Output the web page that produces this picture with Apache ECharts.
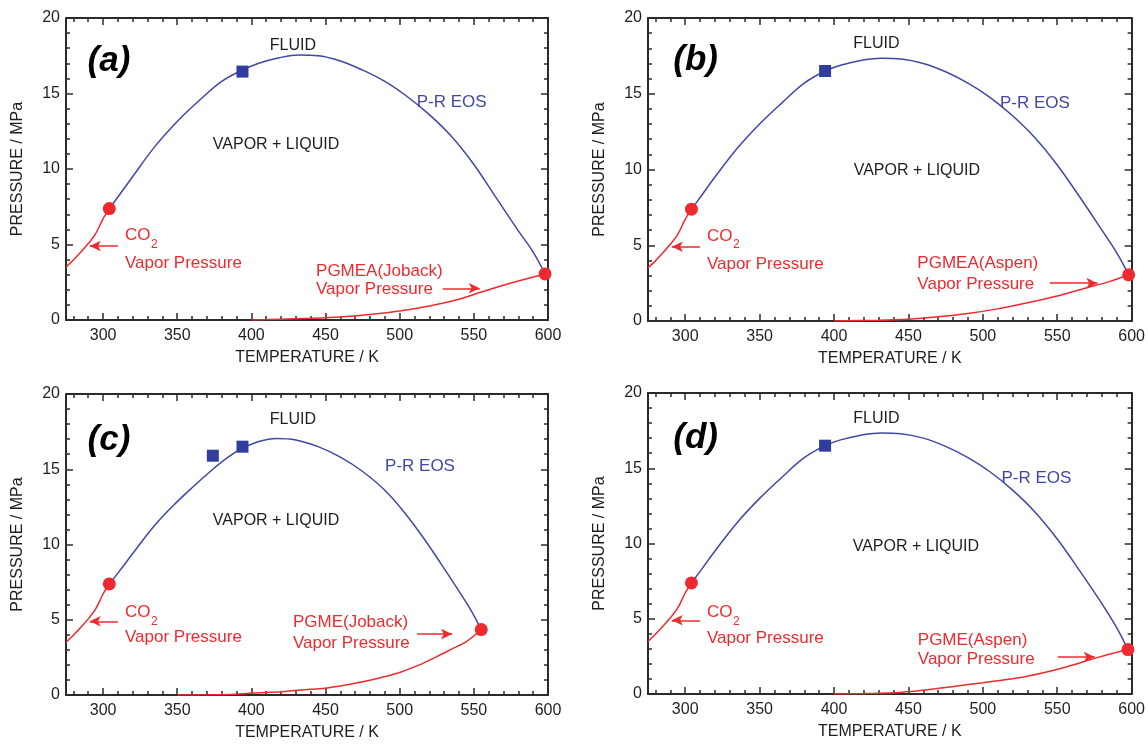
<!DOCTYPE html>
<html>
<head>
<meta charset="utf-8">
<script src="https://cdn.jsdelivr.net/npm/echarts@6/dist/echarts.min.js"></script>
<style>
  html, body { margin: 0; padding: 0; background: #fff; }
  #charts { width: 1148px; height: 745px; }
</style>
</head>
<body>
<div id="charts"></div>
<script>
// tick values
const xMajor = [300, 350, 400, 450, 500, 550, 600];
const xMinor = [280, 290, 310, 320, 330, 340, 360, 370, 380, 390, 410, 420, 430, 440,
  460, 470, 480, 490, 510, 520, 530, 540, 560, 570, 580, 590];

// CO2 vapor pressure, same in all panels
const co2Vapor = [[275, 3.5], [280, 3.97], [285, 4.5], [290, 5.06], [295, 5.72], [300, 6.71], [304.2, 7.38]];
const co2Critical = [304.2, 7.38];

// (a) PGMEA (Joback)
const prA = [[304.2, 7.38], [310, 8.15], [320, 9.5], [335, 11.5], [350, 13.15], [365, 14.55], [380, 15.8],
  [394, 16.55], [405, 17.0], [418, 17.35], [432, 17.55], [445, 17.5], [460, 17.15], [475, 16.55], [490, 15.8],
  [505, 14.8], [520, 13.6], [535, 12.15], [550, 10.3], [565, 8.1], [580, 5.9], [590, 4.5], [598, 3.05]];
const vpA = [[400, 0.0], [420, 0.05], [440, 0.11], [460, 0.2], [480, 0.37], [500, 0.6], [520, 0.93],
  [540, 1.38], [555, 1.85], [575, 2.45], [598, 3.05]];
const critA = [598, 3.05];
const expA = [[394, 16.45]];

// (b) PGMEA (Aspen)
const prB = [[304.2, 7.38], [310, 8.15], [320, 9.5], [335, 11.4], [350, 13.0], [365, 14.4], [380, 15.7],
  [394, 16.5], [405, 16.9], [418, 17.2], [432, 17.35], [445, 17.3], [460, 17.0], [475, 16.45], [490, 15.7],
  [505, 14.75], [520, 13.55], [535, 12.1], [550, 10.3], [565, 8.2], [580, 6.0], [590, 4.5], [598, 3.05]];
const vpB = [[400, 0.0], [430, 0.05], [450, 0.12], [470, 0.28], [490, 0.5], [510, 0.8], [530, 1.2],
  [550, 1.65], [570, 2.2], [585, 2.6], [598, 3.05]];
const critB = [598, 3.05];
const expB = [[394, 16.5]];

// (c) PGME (Joback)
const prC = [[304.2, 7.38], [310, 8.1], [320, 9.4], [335, 11.3], [350, 12.85], [362, 13.95], [374, 15.0],
  [385, 15.85], [394, 16.4], [405, 16.85], [417, 17.05], [430, 16.95], [445, 16.5], [460, 15.8], [475, 14.85],
  [490, 13.6], [505, 11.9], [517, 10.3], [528, 8.7], [538, 7.2], [547, 5.8], [555, 4.35]];
const vpC = [[350, 0.0], [370, 0.01], [385, 0.03], [401, 0.13], [420, 0.22], [440, 0.38], [451, 0.47],
  [470, 0.78], [485, 1.1], [500, 1.5], [512, 1.95], [525, 2.55], [535, 3.05], [545, 3.55], [555, 4.35]];
const critC = [555, 4.35];
const expC = [[374, 15.9], [394, 16.5]];

// (d) PGME (Aspen)
const prD = [[304.2, 7.38], [310, 8.15], [320, 9.5], [335, 11.4], [350, 13.0], [365, 14.4], [380, 15.7],
  [394, 16.5], [405, 16.9], [418, 17.2], [432, 17.35], [445, 17.3], [460, 17.0], [475, 16.45], [490, 15.7],
  [505, 14.75], [520, 13.55], [535, 12.1], [550, 10.3], [565, 8.2], [580, 6.0], [590, 4.4], [597.5, 2.95]];
const vpD = [[400, 0.0], [420, 0.03], [440, 0.08], [460, 0.25], [478, 0.47], [500, 0.75], [523, 1.06],
  [540, 1.4], [556, 1.8], [578, 2.45], [597.5, 2.95]];
const critD = [597.5, 2.95];
const expD = [[394, 16.5]];

const BLUE = "#4047a6";
const RED = "#ef2a2e";
const AXIS = "#2b2b2b";
const FONT = "Liberation Sans, Arial, sans-serif";

const panels = [
  { pr: prA, vp: vpA, crit: critA, exp: expA, tag: "(a)", comp: "PGMEA(Joback)",
    grid: { left: 66, top: 18, width: 482, height: 302 },
    notes: { tag: [304, 17.1], fluid: [428, 18.2], eos: [535, 14.4], vl: [416.6, 11.6],
      co2: [314.8, 5.6], co2vp: [314.8, 3.75], comp: [443.6, 3.2], compvp: [443.6, 2.0],
      co2Arrow: [[310, 4.9], [291, 4.9]], compArrow: [[529, 2.1], [554, 2.1]] } },
  { pr: prB, vp: vpB, crit: critB, exp: expB, tag: "(b)", comp: "PGMEA(Aspen)",
    grid: { left: 648, top: 18, width: 484, height: 303 },
    notes: { tag: [307, 17.2], fluid: [428.5, 18.3], eos: [535, 14.4], vl: [455.7, 9.9],
      co2: [314.6, 5.6], co2vp: [314.6, 3.75], comp: [456, 3.84], compvp: [456, 2.45],
      co2Arrow: [[310, 4.9], [291, 4.9]], compArrow: [[545, 2.5], [577, 2.5]] } },
  { pr: prC, vp: vpC, crit: critC, exp: expC, tag: "(c)", comp: "PGME(Joback)",
    grid: { left: 66, top: 394, width: 482, height: 301 },
    notes: { tag: [304, 16.9], fluid: [428, 18.3], eos: [513.7, 15.2], vl: [416.6, 11.6],
      co2: [314.8, 5.5], co2vp: [314.8, 3.8], comp: [428, 4.8], compvp: [428, 3.45],
      co2Arrow: [[310, 4.9], [291, 4.9]], compArrow: [[511.7, 4.05], [535.3, 4.05]] } },
  { pr: prD, vp: vpD, crit: critD, exp: expD, tag: "(d)", comp: "PGME(Aspen)",
    grid: { left: 648, top: 393, width: 484, height: 301 },
    notes: { tag: [307, 17.0], fluid: [428.5, 18.3], eos: [536, 14.35], vl: [455, 9.8],
      co2: [314.6, 5.4], co2vp: [314.6, 3.7], comp: [456.3, 3.6], compvp: [456.3, 2.3],
      co2Arrow: [[310, 4.9], [291, 4.9]], compArrow: [[550.4, 2.46], [575.2, 2.46]] } }
];

const tickLabel = { color: "#1e1e1e", fontSize: 16, fontFamily: FONT };

function xAxesFor(g) {
  const base = { gridIndex: g, type: "value", min: 275, max: 600, splitLine: { show: false } };
  return [
    Object.assign({}, base, {
      position: "bottom",
      name: "TEMPERATURE / K", nameLocation: "middle", nameGap: 30,
      nameTextStyle: { color: "#1e1e1e", fontSize: 16, fontFamily: FONT },
      axisLine: { show: true, onZero: false, lineStyle: { color: AXIS, width: 2 } },
      axisTick: { show: true, inside: true, length: 7, customValues: xMajor, lineStyle: { color: AXIS, width: 1.5 } },
      axisLabel: Object.assign({ show: true, margin: 8, customValues: xMajor }, tickLabel)
    }),
    Object.assign({}, base, {
      position: "bottom",
      axisLine: { show: false, onZero: false },
      axisTick: { show: true, inside: true, length: 4, customValues: xMinor, lineStyle: { color: AXIS, width: 1.5 } },
      axisLabel: { show: false }
    }),
    Object.assign({}, base, {
      position: "top",
      axisLine: { show: true, onZero: false, lineStyle: { color: AXIS, width: 2 } },
      axisTick: { show: true, inside: true, length: 7, customValues: xMajor, lineStyle: { color: AXIS, width: 1.5 } },
      axisLabel: { show: false }
    }),
    Object.assign({}, base, {
      position: "top",
      axisLine: { show: false, onZero: false },
      axisTick: { show: true, inside: true, length: 4, customValues: xMinor, lineStyle: { color: AXIS, width: 1.5 } },
      axisLabel: { show: false }
    })
  ];
}

function yAxesFor(g) {
  const base = {
    gridIndex: g, type: "value", min: 0, max: 20, interval: 5, splitLine: { show: false },
    axisLine: { show: true, onZero: false, lineStyle: { color: AXIS, width: 2 } },
    axisTick: { show: true, inside: true, length: 7, lineStyle: { color: AXIS, width: 1.5 } },
    minorTick: { show: true, splitNumber: 5, length: 4, lineStyle: { color: AXIS, width: 1.5 } }
  };
  return [
    Object.assign({}, base, {
      position: "left",
      name: "PRESSURE / MPa", nameLocation: "middle", nameGap: 40, nameRotate: 90,
      nameTextStyle: { color: "#1e1e1e", fontSize: 16, fontFamily: FONT },
      axisLabel: Object.assign({ show: true, margin: 6 }, tickLabel)
    }),
    Object.assign({}, base, { position: "right", axisLabel: { show: false } })
  ];
}

let xAxis = [], yAxis = [], series = [];
panels.forEach(function(p, g) {
  xAxis = xAxis.concat(xAxesFor(g));
  yAxis = yAxis.concat(yAxesFor(g));
  const ax = { xAxisIndex: 4 * g, yAxisIndex: 2 * g };
  series.push(Object.assign({ type: "line", data: p.pr, smooth: 0.4, showSymbol: false,
    lineStyle: { color: BLUE, width: 1.5 } }, ax));
  series.push(Object.assign({ type: "line", data: co2Vapor, smooth: 0.3, showSymbol: false,
    lineStyle: { color: RED, width: 1.5 },
    markLine: { silent: true, symbol: ["none", "arrow"], symbolSize: [8, 11], label: { show: false },
      lineStyle: { color: RED, width: 1.5, type: "solid" },
      data: [[{ coord: p.notes.co2Arrow[0] }, { coord: p.notes.co2Arrow[1] }]] } }, ax));
  series.push(Object.assign({ type: "line", data: p.vp, smooth: 0.3, showSymbol: false,
    lineStyle: { color: RED, width: 1.5 },
    markLine: { silent: true, symbol: ["none", "arrow"], symbolSize: [8, 11], label: { show: false },
      lineStyle: { color: RED, width: 1.5, type: "solid" },
      data: [[{ coord: p.notes.compArrow[0] }, { coord: p.notes.compArrow[1] }]] } }, ax));
  series.push(Object.assign({ type: "scatter", data: [co2Critical, p.crit], symbol: "circle", symbolSize: 13,
    itemStyle: { color: RED, opacity: 1 }, z: 5 }, ax));
  series.push(Object.assign({ type: "scatter", data: p.exp, symbol: "rect", symbolSize: 12,
    itemStyle: { color: "#2f3e9e", opacity: 1 }, z: 5 }, ax));
});

const chart = echarts.init(document.getElementById("charts"));
chart.setOption({
  animation: false,
  backgroundColor: "#fff",
  grid: panels.map(function(p) { return p.grid; }),
  xAxis: xAxis,
  yAxis: yAxis,
  series: series
});

// text notes placed in data coordinates of each panel
let graphic = [];
function note(g, pos, text, opts) {
  const px = chart.convertToPixel({ gridIndex: g }, pos);
  graphic.push({
    type: "text", x: px[0], y: px[1], silent: true, z: 10,
    style: Object.assign({ text: text, fill: "#1e1e1e", font: "16px " + FONT,
      textAlign: "center", textVerticalAlign: "middle" }, opts || {})
  });
}
panels.forEach(function(p, g) {
  const n = p.notes;
  note(g, n.tag, p.tag, { font: "italic bold 35px " + FONT, fill: "#000" });
  note(g, n.fluid, "FLUID");
  note(g, n.eos, "P-R EOS", { fill: BLUE, font: "17px " + FONT });
  note(g, n.vl, "VAPOR + LIQUID");
  note(g, n.co2, "CO", { fill: RED, font: "17px " + FONT, textAlign: "left" });
  const c = chart.convertToPixel({ gridIndex: g }, n.co2);
  graphic.push({ type: "text", x: c[0] + 26, y: c[1] + 9, silent: true, z: 10,
    style: { text: "2", fill: RED, font: "12px " + FONT, textAlign: "left", textVerticalAlign: "middle" } });
  note(g, n.co2vp, "Vapor Pressure", { fill: RED, font: "17px " + FONT, textAlign: "left" });
  note(g, n.comp, p.comp, { fill: RED, font: "17px " + FONT, textAlign: "left" });
  note(g, n.compvp, "Vapor Pressure", { fill: RED, font: "17px " + FONT, textAlign: "left" });
});
chart.setOption({ graphic: graphic });

window.onresize = function() {
  chart.resize();
};
</script>
</body>
</html>
